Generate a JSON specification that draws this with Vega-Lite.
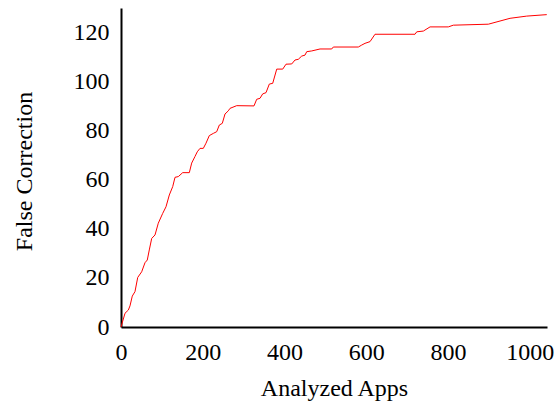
{
  "$schema": "https://vega.github.io/schema/vega-lite/v6.json",
  "width": 426,
  "height": 319,
  "autosize": {"type": "none"},
  "padding": {"left": 121, "top": 8, "right": 13, "bottom": 76},
  "background": "white",
  "config": {"view": {"stroke": null}},
  "data": {"values": [
    {"apps": 0, "fc": 0},
    {"apps": 9.8, "fc": 5.6},
    {"apps": 17.9, "fc": 6.9},
    {"apps": 22.0, "fc": 8.6},
    {"apps": 27.6, "fc": 12.6},
    {"apps": 34.2, "fc": 14.4},
    {"apps": 40.9, "fc": 20.2},
    {"apps": 50.6, "fc": 22.5},
    {"apps": 58.7, "fc": 26.2},
    {"apps": 64.3, "fc": 27.3},
    {"apps": 69.2, "fc": 31.4},
    {"apps": 75.1, "fc": 36.1},
    {"apps": 83.2, "fc": 37.5},
    {"apps": 91.2, "fc": 42.3},
    {"apps": 102.0, "fc": 46.3},
    {"apps": 110.1, "fc": 49.0},
    {"apps": 118.2, "fc": 53.8},
    {"apps": 126.5, "fc": 57.2},
    {"apps": 132.1, "fc": 61.0},
    {"apps": 140.2, "fc": 61.3},
    {"apps": 150.9, "fc": 62.9},
    {"apps": 167.1, "fc": 62.9},
    {"apps": 172.9, "fc": 66.8},
    {"apps": 181.0, "fc": 69.5},
    {"apps": 186.6, "fc": 71.4},
    {"apps": 193.2, "fc": 72.8},
    {"apps": 201.3, "fc": 72.8},
    {"apps": 207.9, "fc": 74.9},
    {"apps": 216.0, "fc": 78.0},
    {"apps": 225.8, "fc": 78.9},
    {"apps": 234.1, "fc": 79.6},
    {"apps": 240.5, "fc": 82.3},
    {"apps": 247.8, "fc": 83.0},
    {"apps": 254.4, "fc": 86.8},
    {"apps": 262.5, "fc": 88.1},
    {"apps": 266.6, "fc": 89.1},
    {"apps": 283.0, "fc": 90.2},
    {"apps": 325.3, "fc": 90.1},
    {"apps": 331.9, "fc": 92.8},
    {"apps": 340.0, "fc": 93.2},
    {"apps": 346.6, "fc": 95.0},
    {"apps": 354.7, "fc": 95.5},
    {"apps": 362.8, "fc": 99.0},
    {"apps": 371.1, "fc": 99.3},
    {"apps": 380.9, "fc": 105.1},
    {"apps": 395.6, "fc": 105.1},
    {"apps": 403.6, "fc": 107.1},
    {"apps": 417.6, "fc": 107.2},
    {"apps": 425.6, "fc": 108.8},
    {"apps": 433.7, "fc": 109.1},
    {"apps": 442.0, "fc": 110.4},
    {"apps": 450.1, "fc": 110.8},
    {"apps": 454.3, "fc": 112.2},
    {"apps": 466.5, "fc": 112.5},
    {"apps": 486.8, "fc": 113.3},
    {"apps": 515.4, "fc": 113.3},
    {"apps": 519.3, "fc": 114.1},
    {"apps": 580.5, "fc": 114.1},
    {"apps": 588.8, "fc": 114.9},
    {"apps": 596.9, "fc": 115.6},
    {"apps": 609.1, "fc": 116.3},
    {"apps": 621.3, "fc": 119.3},
    {"apps": 719.2, "fc": 119.3},
    {"apps": 723.4, "fc": 120.3},
    {"apps": 739.5, "fc": 120.6},
    {"apps": 755.9, "fc": 122.3},
    {"apps": 800.6, "fc": 122.3},
    {"apps": 812.9, "fc": 123.0},
    {"apps": 898.5, "fc": 123.4},
    {"apps": 951.6, "fc": 125.8},
    {"apps": 992.4, "fc": 126.7},
    {"apps": 1041.4, "fc": 127.3}
  ]},
  "mark": {"type": "line", "color": "#ff0000", "strokeWidth": 1},
  "encoding": {
    "x": {
      "field": "apps",
      "type": "quantitative",
      "scale": {"domain": [0, 1042], "nice": false, "zero": false},
      "axis": {
        "title": "Analyzed Apps",
        "values": [0, 200, 400, 600, 800, 1000],
        "format": "d",
        "grid": false,
        "ticks": false,
        "domainColor": "black",
        "domainWidth": 2,
        "labelFont": "Liberation Serif",
        "labelFontSize": 24,
        "labelColor": "black",
        "labelBaseline": "alphabetic",
        "labelPadding": 32,
        "labelFlush": false,
        "labelOverlap": false,
        "titleFont": "Liberation Serif",
        "titleFontSize": 24,
        "titleFontWeight": "normal",
        "titleColor": "black",
        "titleBaseline": "alphabetic",
        "titleY": 68
      }
    },
    "y": {
      "field": "fc",
      "type": "quantitative",
      "scale": {"domain": [0, 130], "nice": false},
      "axis": {
        "title": "False Correction",
        "values": [0, 20, 40, 60, 80, 100, 120],
        "grid": false,
        "ticks": false,
        "domainColor": "black",
        "domainWidth": 2,
        "labelFont": "Liberation Serif",
        "labelFontSize": 24,
        "labelColor": "black",
        "labelPadding": 12,
        "labelFlush": false,
        "labelOverlap": false,
        "titleFont": "Liberation Serif",
        "titleFontSize": 24,
        "titleFontWeight": "normal",
        "titleColor": "black",
        "titleBaseline": "alphabetic",
        "titleAngle": 270,
        "titleX": -90,
        "titleY": 163
      }
    }
  }
}
